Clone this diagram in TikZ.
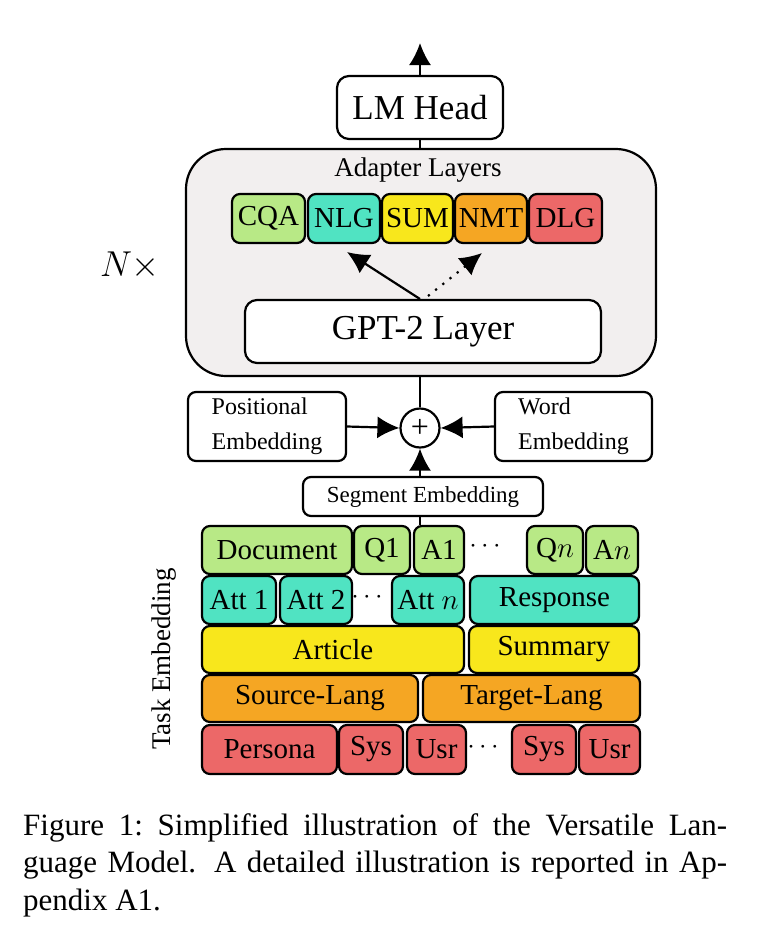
\RequirePackage{fix-cm}
\documentclass[tikz,border=0pt]{standalone}
\usepackage{fontspec}
\setmainfont{Liberation Serif}
\usetikzlibrary{arrows.meta}

\definecolor{cqagreen}{HTML}{B8E986}
\definecolor{nlgteal}{HTML}{50E3C2}
\definecolor{sumyellow}{HTML}{F8E71C}
\definecolor{nmtorange}{HTML}{F5A623}
\definecolor{dlgred}{HTML}{EC6868}
\definecolor{layerbg}{HTML}{F2EFEF}

\begin{document}
\begin{tikzpicture}[x=1pt, y=-1pt,
    box/.style={draw, line width=2.2pt, rounded corners=8pt, inner sep=0pt, fill=white},
    tok/.style={box, font=\fontsize{29}{32}\selectfont},
    wire/.style={line width=2.2pt},
    arr/.style={line width=2.2pt, -{Latex[length=22pt,width=22pt]}}]
    \useasboundingbox (0,0) rectangle (778,948);

    % Output arrow and LM head
    \coordinate (out) at (420,43);
    \node[box, rounded corners=12pt, minimum width=166, minimum height=63,
        font=\fontsize{35}{40}\selectfont] (head) at (420,107.5) {LM Head};
    \draw[arr] (head.north) -- (out);

    % Repeated block with the adapters
    \node[box, fill=layerbg, rounded corners=40pt, minimum width=470, minimum height=227] (layers) at (421,262.5) {};
    \draw[wire] (head.south) -- (head.south |- layers.north);
    \node[font=\fontsize{27}{30}\selectfont] (adlabel) at (418,170) {Adapter Layers};
    \node[font=\fontsize{36}{40}\selectfont] (rep) at (130,266) {$N\times$};

    % One adapter per task
    \node[tok, fill=cqagreen, minimum width=73, minimum height=49] (cqa) at (268.5,218.5) {CQA};
    \node[tok, fill=nlgteal, minimum width=72, minimum height=49] (nlg) at (344,218.5) {NLG};
    \node[tok, fill=sumyellow, minimum width=71, minimum height=49] (sum) at (417.5,218.5) {SUM};
    \node[tok, fill=nmtorange, minimum width=72, minimum height=49] (nmt) at (491,218.5) {NMT};
    \node[tok, fill=dlgred, minimum width=73, minimum height=49] (dlg) at (565.5,218.5) {DLG};

    % GPT-2 layer feeding the adapters
    \node[box, rounded corners=12pt, minimum width=356, minimum height=63,
        font=\fontsize{35}{40}\selectfont] (gpt) at (423,331.5) {GPT-2 Layer};
    \coordinate (nlgtip) at (347,252);
    \coordinate (nmttip) at (482,253);
    \coordinate (gptsolid) at (420,299);
    \coordinate (gptdot) at (428,296);
    \draw[arr] (gptsolid) -- (nlgtip);
    \draw[arr, dash pattern=on 2.2pt off 7pt] (gptdot) -- (nmttip);

    % Sum of the embeddings
    \node[draw, circle, line width=2.2pt, minimum size=39pt, inner sep=0pt, fill=white,
        font=\fontsize{32}{32}\selectfont] (plus) at (420,428) {+};
    \draw[wire] (layers.south -| plus) -- (plus.north);
    \node[box, minimum width=158, minimum height=69, align=left,
        font=\fontsize{24}{35}\selectfont] (pos) at (267,426.5) {Positional\\Embedding};
    \node[box, minimum width=157, minimum height=69, align=left,
        font=\fontsize{24}{35}\selectfont] (word) at (573.5,426.5) {Word\\Embedding};
    \node[box, minimum width=240, minimum height=39,
        font=\fontsize{23}{26}\selectfont] (seg) at (423,496.5) {Segment Embedding};
    \draw[arr] (pos.east) -- (plus.west);
    \draw[arr] (word.west) -- (plus.east);
    \draw[arr] (plus.south |- seg.north) -- (plus.south);

    % Task embedding rows
    \node[tok, fill=cqagreen, minimum width=150, minimum height=48] (doc) at (277,550) {Document};
    \node[tok, fill=cqagreen, minimum width=56, minimum height=48] (q1) at (382,550) {Q1};
    \node[tok, fill=cqagreen, minimum width=50, minimum height=48] (a1) at (439,550) {A1};
    \node[font=\fontsize{27}{30}\selectfont] (dotsa) at (485,546) {$\cdots$};
    \node[tok, fill=cqagreen, minimum width=56, minimum height=48] (qn) at (555,550) {Q$n$};
    \node[tok, fill=cqagreen, minimum width=52, minimum height=48] (an) at (612,550) {A$n$};
    \draw[wire] (seg.south -| plus) -- (a1.north -| plus);

    \node[tok, fill=nlgteal, minimum width=74, minimum height=48] (att1) at (239,600) {Att 1};
    \node[tok, fill=nlgteal, minimum width=72, minimum height=48] (att2) at (316,600) {Att 2};
    \node[font=\fontsize{27}{30}\selectfont] (dotsb) at (367,597) {$\cdots$};
    \node[tok, fill=nlgteal, minimum width=72, minimum height=48] (attn) at (428,600) {Att $n$};
    \node[tok, fill=nlgteal, minimum width=169, minimum height=48] (resp) at (554.5,600) {Response};

    \node[tok, fill=sumyellow, minimum width=262, minimum height=47] (art) at (333,649.5) {Article};
    \node[tok, fill=sumyellow, minimum width=170, minimum height=47] (summ) at (554,649.5) {Summary};

    \node[tok, fill=nmtorange, minimum width=216, minimum height=47] (src) at (310,698.5) {Source-Lang};
    \node[tok, fill=nmtorange, minimum width=217, minimum height=47] (tgt) at (531.5,698.5) {Target-Lang};

    \node[tok, fill=dlgred, minimum width=135, minimum height=49] (pers) at (269.5,749.5) {Persona};
    \node[tok, fill=dlgred, minimum width=64, minimum height=49] (sysa) at (371,749.5) {Sys};
    \node[tok, fill=dlgred, minimum width=59, minimum height=49] (usra) at (436.5,749.5) {Usr};
    \node[font=\fontsize{27}{30}\selectfont] (dotsc) at (483,747) {$\cdots$};
    \node[tok, fill=dlgred, minimum width=64, minimum height=49] (sysb) at (544,749.5) {Sys};
    \node[tok, fill=dlgred, minimum width=61, minimum height=49] (usrb) at (609.5,749.5) {Usr};

    \node[rotate=90, font=\fontsize{27}{30}\selectfont] (tasklab) at (164,659) {Task Embedding};

    % Caption
    \node[anchor=base west, inner sep=0pt, font=\fontsize{31}{37}\selectfont] (cap1) at (23,835)
        {\makebox[704pt][s]{Figure 1:\ Simplified illustration of the Versatile Lan-}};
    \node[anchor=base west, inner sep=0pt, font=\fontsize{31}{37}\selectfont] (cap2) at (23,872.5)
        {\makebox[704pt][s]{guage Model. A detailed illustration is reported in Ap-}};
    \node[anchor=base west, inner sep=0pt, font=\fontsize{31}{37}\selectfont] (cap3) at (23,910)
        {pendix A1.};
\end{tikzpicture}
\end{document}
